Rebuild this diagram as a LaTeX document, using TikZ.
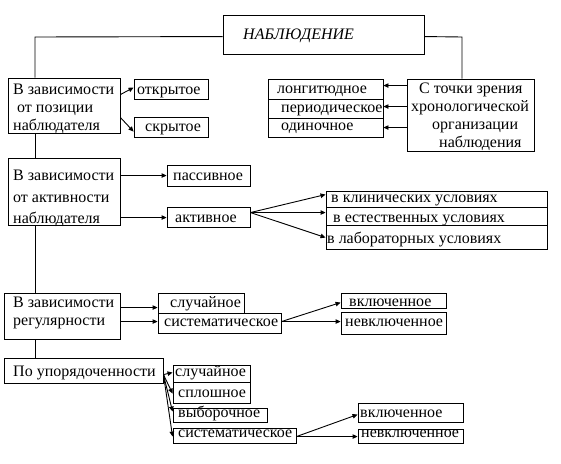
\documentclass[tikz,border=0pt]{standalone}
\usepackage{fontspec}
\setmainfont{Liberation Serif}
\usetikzlibrary{arrows.meta,fit,calc}
\begin{document}
\begin{tikzpicture}[x=1pt,y=-1pt,
  box/.style={draw=black,line width=0.9pt,inner sep=0pt,fit={#1}},
  txt/.style={anchor=base west,inner sep=0pt,font=\fontsize{16}{18}\selectfont},
  ln/.style={draw=black,line width=0.9pt},
  arr/.style={ln,-{Triangle[length=5pt,width=4.5pt]}}]
\useasboundingbox (0,0) rectangle (561,463);
% boxes
\node[box={(223,15) (424,54)}] (T) {};
\node[box={(8,78) (120,133)}] (b1) {};
\node[box={(134,79) (208,99)}] (open) {};
\node[box={(134,117) (208,137)}] (hid) {};
\node[box={(268,79) (383,99)}] (l1) {};
\node[box={(268,99) (383,118)}] (l2) {};
\node[box={(268,118) (383,137)}] (l3) {};
\node[box={(407,79) (534,151)}] (C) {};
\node[box={(8,158) (120,225)}] (b2) {};
\node[box={(167,165) (250,186)}] (pas) {};
\node[box={(167,207) (250,227)}] (act) {};
\node[box={(326,191) (547,207)}] (k1) {};
\node[box={(326,207) (547,225)}] (k2) {};
\node[box={(326,225) (547,249)}] (k3) {};
\node[box={(4,293) (120,339)}] (b3) {};
\node[box={(158,293) (244,313)}] (rnd) {};
\node[box={(158,313) (281,333)}] (sys) {};
\node[box={(341,293) (446,308)}] (vk) {};
\node[box={(341,312) (446,334)}] (nvk) {};
\node[box={(4,358) (163,383)}] (b4) {};
\node[box={(173,365) (250,382)}] (rnd2) {};
\node[box={(173,382) (250,403)}] (spl) {};
\node[box={(173,408) (267,422)}] (vyb) {};
\node[box={(173,428) (296,443)}] (sys2) {};
\node[box={(358,403) (463,422)}] (vk2) {};
\node[box={(358,429) (463,443)}] (nvk2) {};
% texts
\node[txt,font=\fontsize{16}{18}\selectfont\itshape] (tT) at (243,39) {НАБЛЮДЕНИЕ};
\node[txt] (tb1a) at (13,94) {В зависимости};
\node[txt] (tb1b) at (17,112) {от позиции};
\node[txt] (tb1c) at (13,130) {наблюдателя};
\node[txt] (topen) at (137,94) {открытое};
\node[txt] (thid) at (145,131) {скрытое};
\node[txt] (tl1) at (277,93) {лонгитюдное};
\node[txt] (tl2) at (281,112) {периодическое};
\node[txt] (tl3) at (281,130) {одиночное};
\node[txt] (tCa) at (419,93) {С точки зрения};
\node[txt] (tCb) at (411,111) {хронологической};
\node[txt] (tCc) at (432,129) {организации};
\node[txt] (tCd) at (439,147) {наблюдения};
\node[txt] (tb2a) at (13,180) {В зависимости};
\node[txt] (tb2b) at (13,202) {от активности};
\node[txt] (tb2c) at (13,223) {наблюдателя};
\node[txt] (tpas) at (173,180) {пассивное};
\node[txt] (tact) at (175,222) {активное};
\node[txt] (tk1) at (331,202) {в клинических условиях};
\node[txt] (tk2) at (333,222) {в естественных условиях};
\node[txt] (tk3) at (327,243) {в лабораторных условиях};
\node[txt] (tb3a) at (13,307) {В зависимости};
\node[txt] (tb3b) at (13,325) {регулярности};
\node[txt] (trnd) at (170,307) {случайное};
\node[txt] (tsys) at (164,326) {систематическое};
\node[txt] (tvk) at (349,306) {включенное};
\node[txt] (tnvk) at (345,326) {невключенное};
\node[txt] (tb4) at (13,376) {По упорядоченности};
\node[txt] (trnd2) at (175,376) {случайное};
\node[txt] (tspl) at (178,397) {сплошное};
\node[txt] (tvyb) at (178,417) {выборочное};
\node[txt] (tsys2) at (178,437) {систематическое};
\node[txt] (tvk2) at (360,417) {включенное};
\node[txt] (tnvk2) at (361,437) {невключенное};
% spine and top connectors
\coordinate (sp) at (35,37);
\coordinate (rj) at (462,37);
\draw[ln] ($(T.north west)+(0,22)$) -- (sp) -- (sp |- b1.north);
\draw[ln] ($(T.north east)+(0,22)$) -- (rj) -- (rj |- C.north);
\draw[ln] (sp |- b1.south) -- (sp |- b2.north);
\draw[ln] (sp |- b2.south) -- (sp |- b3.north);
\draw[ln] (sp |- b3.south) -- (sp |- b4.north);
% arrows
\draw[arr] ($(b1.north east)+(0,17)$) -- ($(open.north west)+(0,9)$);
\draw[arr] ($(b1.north east)+(0,40)$) -- ($(hid.north west)+(0,15)$);
\draw[arr] ($(C.north west)+(0,7)$) -- ($(l1.north east)+(0,7)$);
\draw[arr] ($(C.north west)+(0,28)$) -- ($(l2.north east)+(0,8)$);
\draw[arr] ($(C.north west)+(0,49)$) -- ($(l3.north east)+(0,10)$);
\draw[arr] ($(b2.north east)+(0,18)$) -- ($(pas.north west)+(0,11)$);
\draw[arr] ($(b2.north east)+(0,60)$) -- ($(act.north west)+(0,11)$);
\draw[arr] ($(act.north east)+(0,6)$) -- ($(k1.north west)+(0,4)$);
\draw[arr] ($(act.north east)+(0,6)$) -- ($(k2.north west)+(0,6)$);
\draw[arr] ($(act.north east)+(0,6)$) -- ($(k3.north west)+(0,13)$);
\draw[arr] ($(b3.north east)+(0,15)$) -- ($(rnd.north west)+(0,15)$);
\draw[arr] ($(b3.north east)+(0,29)$) -- ($(sys.north west)+(0,9)$);
\draw[arr] ($(sys.north east)+(0,9)$) -- ($(vk.north west)+(0,10)$);
\draw[arr] ($(sys.north east)+(0,9)$) -- ($(nvk.north west)+(0,10)$);
\draw[arr] ($(b4.north east)+(0,17)$) -- ($(rnd2.north west)+(0,8)$);
\draw[arr] ($(b4.north east)+(0,17)$) -- ($(spl.north west)+(0,12)$);
\draw[arr] ($(b4.north east)+(0,17)$) -- ($(vyb.north west)+(0,4)$);
\draw[arr] ($(b4.north east)+(0,17)$) -- ($(sys2.north west)+(0,9)$);
\draw[arr] ($(sys2.north east)+(0,9)$) -- ($(vk2.north west)+(0,12)$);
\draw[arr] ($(sys2.north east)+(0,9)$) -- ($(nvk2.north west)+(0,8)$);
\end{tikzpicture}
\end{document}
